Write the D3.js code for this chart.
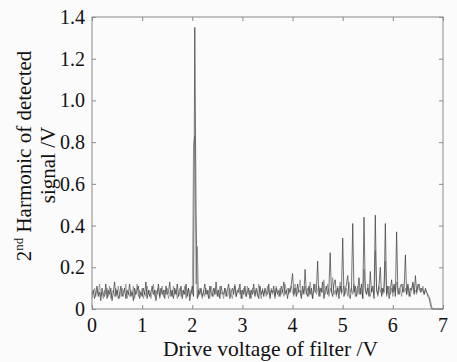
<!DOCTYPE html>
<html><head><meta charset="utf-8">
<script src="https://cdn.jsdelivr.net/npm/d3@7"></script>
<style>
html,body{margin:0;padding:0;background:#fbfbfb;}
svg{display:block;}
text{font-family:"Liberation Serif","DejaVu Serif",serif;fill:#111;}
</style></head>
<body>
<script>
// X sampling of the traces (V)
const xStart = 0, xStep = 0.025;
// Trace A (darker)
const traceA = [
.07,.09,.05,.08,.11,.06,.08,.04,.10,.07,
.06,.12,.05,.09,.07,.10,.04,.08,.13,.06,
.09,.05,.07,.11,.06,.08,.10,.05,.09,.07,
.12,.06,.08,.04,.10,.07,.09,.11,.05,.08,
.06,.10,.07,.13,.05,.09,.06,.08,.11,.07,
.09,.04,.08,.12,.06,.10,.07,.09,.05,.11,
.07,.08,.13,.06,.09,.05,.10,.07,.12,.06,
.08,.11,.05,.09,.07,.12,.06,.10,.04,.08,
.11,.06,1.35,.48,.05,.09,.07,.10,.06,.08,
.12,.07,.09,.05,.11,.08,.06,.10,.07,.13,
.06,.09,.05,.11,.08,.07,.10,.06,.09,.12,
.05,.08,.10,.07,.11,.06,.09,.08,.12,.05,
.09,.07,.11,.06,.08,.10,.05,.09,.07,.12,
.06,.10,.08,.05,.11,.07,.09,.06,.10,.08,
.07,.12,.05,.09,.08,.11,.06,.10,.07,.09,
.06,.11,.08,.13,.07,.09,.05,.10,.08,.12,
.17,.07,.10,.06,.12,.08,.09,.05,.11,.07,
.19,.08,.06,.11,.07,.10,.05,.12,.08,.09,
.23,.06,.10,.08,.13,.05,.09,.11,.07,.10,
.27,.08,.06,.12,.14,.07,.10,.05,.11,.08,
.34,.06,.09,.12,.16,.07,.05,.10,.41,.08,
.11,.06,.09,.15,.07,.12,.05,.44,.09,.07,
.10,.06,.18,.08,.11,.05,.45,.09,.07,.12,
.20,.06,.10,.08,.41,.07,.11,.05,.09,.14,
.08,.12,.06,.37,.09,.07,.11,.12,.08,.10,
.26,.07,.12,.06,.10,.09,.13,.07,.16,.08,
.11,.12,.08,.10,.09,.07,.10,.08,.06,.05,
.02,0,0,0,0,0,0,0,0,0,0
];
// Trace B (lighter)
const traceB = [
.05,.08,.10,.06,.09,.07,.12,.06,.08,.05,
.09,.07,.10,.06,.11,.05,.08,.09,.06,.10,
.07,.11,.05,.08,.10,.06,.09,.12,.05,.08,
.06,.09,.07,.11,.05,.08,.12,.06,.09,.07,
.10,.05,.08,.06,.11,.07,.09,.05,.08,.12,
.06,.09,.07,.10,.05,.08,.11,.06,.09,.07,
.10,.05,.08,.09,.06,.11,.07,.09,.05,.08,
.10,.06,.09,.07,.11,.05,.08,.10,.06,.09,
.07,.79,.83,.12,.30,.06,.10,.08,.05,.09,
.06,.10,.07,.09,.05,.11,.08,.06,.10,.07,
.09,.06,.11,.07,.08,.05,.10,.09,.06,.08,
.10,.07,.05,.09,.12,.06,.08,.10,.07,.09,
.05,.10,.08,.06,.11,.07,.09,.05,.10,.08,
.07,.09,.06,.12,.08,.05,.10,.07,.09,.06,
.11,.08,.06,.10,.07,.09,.05,.11,.08,.06,
.10,.07,.09,.06,.12,.08,.10,.07,.09,.11,
.08,.06,.12,.09,.07,.10,.14,.06,.09,.08,
.11,.07,.10,.06,.13,.08,.05,.10,.12,.07,
.09,.11,.06,.10,.08,.14,.07,.09,.12,.06,
.10,.08,.15,.07,.09,.06,.11,.08,.13,.07,
.09,.11,.07,.10,.06,.13,.08,.10,.07,.12,
.06,.09,.11,.07,.10,.08,.05,.19,.10,.07,
.12,.08,.06,.10,.09,.07,.28,.10,.06,.11,
.08,.10,.07,.12,.23,.06,.09,.11,.07,.10,
.06,.11,.08,.13,.07,.10,.09,.06,.12,.08,
.10,.07,.11,.09,.06,.10,.12,.08,.09,.07,
.12,.09,.10,.08,.11,.07,.09,.08,.07,.06,
.04,.01,0,0,0,0,0,0,0,0,0
];
const xTicks = [0,1,2,3,4,5,6,7];
const yTicks = [0,0.2,0.4,0.6,0.8,1.0,1.2,1.4];
const yTickLabels = ["0","0.2","0.4","0.6","0.8","1.0","1.2","1.4"];
const xTitle = "Drive voltage of filter /V";
const yTitle1a = "2", yTitle1sup = "nd", yTitle1b = " Harmonic of detected";
const yTitle2 = "signal /V";

const W = 457, H = 362;
const mLeft = 92, mRight = 443, mTop = 17, mBottom = 309;
const svg = d3.select("body").append("svg").attr("width", W).attr("height", H);

const x = d3.scaleLinear().domain([0, 7]).range([mLeft, mRight]);
const y = d3.scaleLinear().domain([0, 1.4]).range([mBottom, mTop]);

const axisColor = "#8a8a8a";

// traces
const line = d3.line().x((d, i) => x(xStart + i * xStep)).y(d => y(d));
svg.append("path").datum(traceB).attr("d", line)
  .attr("fill", "none").attr("stroke", "#8c8c8c").attr("stroke-width", 0.8);
svg.append("path").datum(traceA).attr("d", line)
  .attr("fill", "none").attr("stroke", "#3a3a3a").attr("stroke-width", 0.7);

// frame
svg.append("rect").attr("x", mLeft).attr("y", mTop).attr("width", mRight - mLeft).attr("height", mBottom - mTop)
  .attr("fill", "none").attr("stroke", axisColor).attr("stroke-width", 1);

// axes with inward ticks
const tl = 4;
function styleAxis(g) {
  g.select(".domain").remove();
  g.selectAll(".tick line").attr("stroke", axisColor);
}
svg.append("g").attr("transform", `translate(0,${mBottom})`)
  .call(d3.axisTop(x).tickValues(xTicks).tickSize(tl).tickFormat(""))
  .call(styleAxis);
svg.append("g").attr("transform", `translate(0,${mTop})`)
  .call(d3.axisBottom(x).tickValues(xTicks).tickSize(tl).tickFormat(""))
  .call(styleAxis);
svg.append("g").attr("transform", `translate(${mLeft},0)`)
  .call(d3.axisRight(y).tickValues(yTicks).tickSize(tl).tickFormat(""))
  .call(styleAxis);
svg.append("g").attr("transform", `translate(${mRight},0)`)
  .call(d3.axisLeft(y).tickValues(yTicks).tickSize(tl).tickFormat(""))
  .call(styleAxis);

// tick labels
svg.append("g").selectAll("text").data(xTicks).join("text")
  .attr("x", d => x(d)).attr("y", 332).attr("text-anchor", "middle")
  .attr("font-size", 20).text(d => d);
svg.append("g").selectAll("text").data(yTicks).join("text")
  .attr("x", 85).attr("y", d => y(d) + 7).attr("text-anchor", "end")
  .attr("font-size", 20).text((d, i) => yTickLabels[i]);

// titles
svg.append("text").attr("x", (mLeft + mRight) / 2 + 3).attr("y", 356).attr("text-anchor", "middle")
  .attr("font-size", 21.5).text(xTitle);
const t1 = svg.append("text").attr("transform", "translate(31,156) rotate(-90)")
  .attr("text-anchor", "middle").attr("font-size", 21);
t1.append("tspan").text(yTitle1a);
t1.append("tspan").attr("font-size", 13).attr("dy", -8).text(yTitle1sup);
t1.append("tspan").attr("dy", 8).text(yTitle1b);
svg.append("text").attr("transform", "translate(55,165) rotate(-90)")
  .attr("text-anchor", "middle").attr("font-size", 21).text(yTitle2);
</script>
</body></html>
